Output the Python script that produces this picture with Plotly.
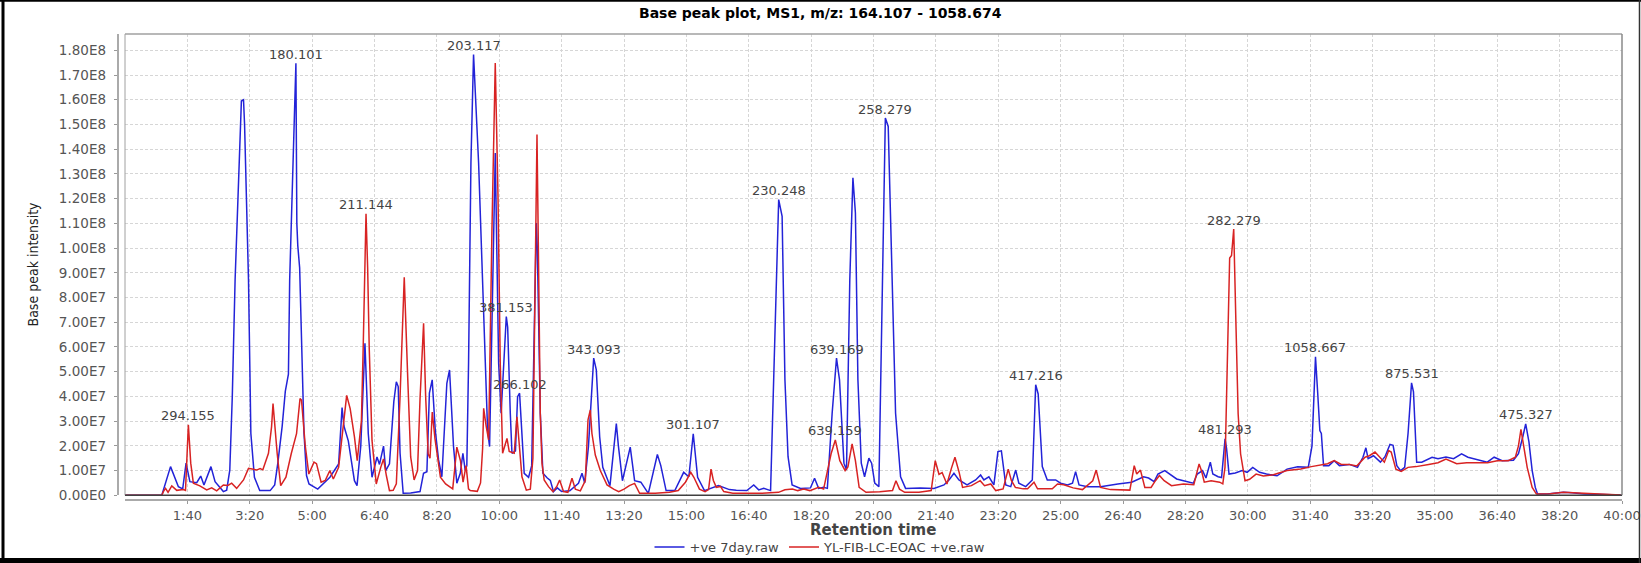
import numpy as np
import plotly.graph_objects as go

# Base peak chromatograms: (retention time in s, intensity in units of 1e6 counts)
ve7_points = [
    (0, 0), (59, 0), (73, 11.6), (85.6, 3.5), (92.5, 2.6), (97.9, 13.0), (104, 5.5), (115, 5.1),
    (121.4, 7.8), (126.6, 4.2), (137.8, 11.6), (144.4, 5.5), (157.7, 1.5), (163, 2.1), (168, 10.2),
    (172, 40), (176.5, 87), (186.6, 159.5), (190, 160), (191.7, 150), (198, 87), (201.8, 25),
    (207.5, 7.3), (216, 1.9), (232.7, 1.9), (240, 4.2), (245, 13), (252, 28), (257, 42), (262, 49),
    (264, 87), (274, 174.8), (275.5, 110), (277, 101), (280, 92), (283, 60), (287, 25), (291, 8),
    (295, 4.6), (309, 2.5), (328.5, 7.3), (342.5, 12.7), (346, 30), (348, 35.5), (351, 28), (358, 22),
    (367.8, 5.9), (372, 3.9), (378, 20), (384.7, 61.5), (390, 25), (396, 7.3), (404, 15.5), (408, 12.5),
    (414.5, 19.9), (418, 10), (424, 12.7), (431, 38), (435, 45.9), (438, 44), (441, 17), (446, 0.8),
    (458, 0.9), (473, 1.5), (478.6, 8.9), (484, 9.5), (488, 41.3), (492.5, 46.7), (497.4, 26.4),
    (502.7, 14.3), (508, 7.5), (516, 45.3), (520.3, 50.7), (526.7, 19.7), (532, 4.9), (537.5, 8.9),
    (541.7, 17), (545.5, 10), (548, 12), (550.8, 53.4), (554.6, 134.4), (558.8, 178.3), (566.9, 134.4),
    (572, 94), (577.6, 53.4), (581.3, 26.4), (584.5, 19.7), (593.6, 138.5), (599, 53.4), (603, 33.2),
    (611.3, 72.3), (613.5, 68), (617.7, 33.2), (620.4, 17), (626, 18), (629.4, 39.9), (632.6, 41.3),
    (636.4, 26.4), (640, 8.9), (647, 7.3), (652, 12), (659.4, 110.1), (661, 100), (665.8, 33.2),
    (670, 8.9), (677, 7), (681.9, 6), (687, 1.5), (693, 3), (700, 1.5), (713, 1.8), (727, 4.9),
    (732.7, 8.9), (737, 5), (743, 19.7), (751.4, 55.5), (755.6, 50.7), (761, 23.7), (766, 11.3),
    (777.5, 3.9), (787.7, 29), (791, 20), (797.5, 5.9), (810, 19.5), (817, 5.9), (827, 5.3), (839, 0.8),
    (853.5, 16.5), (856, 14), (859, 12), (867.5, 1.9), (881.5, 1.9), (895.7, 9.3), (904, 7.5),
    (911, 24.9), (918, 7.3), (929, 1.9), (951.4, 3.9), (969, 2.3), (980, 2.0), (997, 1.9), (1008, 4.2),
    (1016, 2.2), (1024, 2.8), (1035, 1.9), (1040, 46.7), (1048, 119.6), (1053.5, 112.8), (1058, 46.7),
    (1063, 15.6), (1069.5, 4.2), (1083, 2.8), (1099, 3.0), (1105.5, 6.9), (1112, 2.8), (1120, 3.2),
    (1126, 2.8), (1133.7, 33.2), (1140.7, 55.5), (1145.5, 46.7), (1152.6, 13), (1156.7, 10.2),
    (1162, 87.2), (1167, 128.4), (1171, 114.2), (1175, 46.7), (1180.4, 13), (1185.7, 7.5),
    (1192.6, 15), (1197, 13), (1202, 4.9), (1208.6, 3.5), (1214, 73.7), (1219, 152.6), (1223.6, 149.2),
    (1230, 87.2), (1235.4, 33.2), (1243.4, 7.5), (1251.4, 2.8), (1275, 3.0), (1297, 2.8), (1313, 4.2),
    (1321, 6.2), (1329, 8.9), (1337, 6.2), (1350, 4.2), (1363.7, 6.2), (1371.7, 8.2), (1377, 6.2),
    (1385, 7.5), (1393, 4.2), (1399.5, 17.7), (1405, 18), (1412, 4.2), (1420, 3.5), (1428, 10.2),
    (1433, 4.9), (1444, 3.5), (1454.6, 6.2), (1460, 44.7), (1464, 41), (1470.6, 11.6), (1478.6, 6.2),
    (1492, 6.2), (1500, 4.9), (1511, 4.2), (1519, 4.9), (1524, 9.6), (1529.5, 4.2), (1543, 3.5),
    (1564, 3.5), (1591.7, 4.6), (1614, 5.3), (1633, 7.5), (1641, 7), (1650, 5.5), (1656, 8.6),
    (1667, 10), (1675, 8.6), (1686, 6.6), (1697, 5.9), (1708, 5.3), (1712.7, 4.9), (1719, 8.6),
    (1727.6, 10), (1733, 7), (1740, 13.4), (1744, 8.6), (1752.5, 7.5), (1758, 7.2), (1763.6, 22.8),
    (1766, 19), (1770, 8.6), (1780, 9), (1791, 10), (1799, 9.3), (1808, 11.3), (1819, 9.3), (1830, 8.6),
    (1847, 7.9), (1863, 10.6), (1880, 11.5), (1897, 11.3), (1903, 20), (1908.6, 56), (1912, 42),
    (1915.6, 26.2), (1918, 25), (1921.5, 12), (1930, 12), (1938.6, 14), (1947, 12), (1962.8, 12.5),
    (1976, 11.3), (1984.7, 15.4), (1989.4, 19.2), (1993, 14.8), (2001.6, 16), (2012.7, 13.4),
    (2020, 15.6), (2028, 20.6), (2033, 20.2), (2039, 12), (2045, 10), (2051.6, 11.3), (2057, 25),
    (2062.6, 45.5), (2065.7, 41.8), (2070.8, 13.4), (2079, 13.4), (2095.5, 15.4), (2105, 14.8),
    (2117.8, 15.5), (2130, 14.8), (2142.8, 16.8), (2153, 15.4), (2173, 14), (2184, 13.4), (2195, 15.4),
    (2208, 14), (2226, 14.2), (2234, 16.8), (2240.8, 23.5), (2245.6, 28.9), (2250.8, 21.6), (2256, 10),
    (2261, 3.2), (2264.6, 0.5), (2280, 0.5), (2306, 1.2), (2320, 1.0), (2339, 0.5), (2370, 0.3),
    (2398, 0.1),
]

eoac_points = [
    (0, 0), (59, 0), (61.5, 1.5), (65, 2.8), (69, 1.2), (75, 3.8), (83, 2.0), (93.6, 2.3), (97, 2.0),
    (101.6, 28.5), (105.4, 13), (109.6, 4.9), (120, 3.8), (131, 2.2), (139, 3.0), (147, 1.8),
    (157.7, 4.2), (165, 4.0), (171, 4.9), (179, 2.8), (190, 6.2), (198, 10.9), (206, 10.5), (211, 10.2),
    (216.6, 10.8), (221, 10.3), (230, 17), (235, 27.8), (237.3, 37.1), (244, 16.8), (249.6, 3.9),
    (258, 7.3), (266.5, 16.8), (275, 24.9), (280.6, 39.1), (283, 38.5), (289, 20), (294.7, 8.6),
    (303, 13.4), (307, 12.8), (314.4, 5.3), (321, 6), (328.4, 10), (334, 6.6), (342.5, 11.3),
    (355.4, 40.4), (361, 35.1), (367.9, 23.5), (372.3, 14), (379, 30), (381.9, 60), (386.4, 113.9),
    (389, 92.2), (391.5, 60), (396, 22.2), (402.8, 4.6), (410, 11.3), (414.5, 14.7), (419, 8),
    (424, 1.9), (430, 2), (435, 4.6), (441, 40), (447.7, 88.2), (453.4, 46.6), (458, 15.5),
    (463.5, 6.2), (469, 10), (473, 39), (478.7, 69.6), (482, 40), (486, 16.8), (489, 15), (492.6, 33.7),
    (497, 22.8), (505.7, 7.3), (514, 4.6), (525.4, 2.6), (532, 19.5), (537.8, 14), (542, 5.3),
    (546.8, 12), (550.7, 2.6), (553.5, 1.9), (564.8, 1.6), (570, 5), (573.3, 18.8), (575, 35.2),
    (579, 28), (583, 22.4), (588.3, 107.4), (593.6, 174.9), (598, 120.9), (601.6, 53.4), (605.4, 17),
    (608.6, 19.7), (612.4, 23), (616, 17.7), (620, 17.5), (624, 17), (628.4, 31.8), (632, 20),
    (636.4, 7.5), (643.4, 2.1), (649.8, 2.5), (654, 15), (657.8, 94), (660.5, 145.9), (663, 94),
    (665.8, 33), (668.5, 13), (672, 6.2), (679, 3.5), (686, 1.5), (692.5, 3.7), (696.8, 6.2), (703, 1.5),
    (710, 1.2), (716.6, 6.9), (722, 2.5), (730, 1.8), (738, 6), (742.3, 30.5), (746, 34.5), (748.6, 25),
    (754, 16.3), (762, 10), (772.8, 4.2), (783.4, 2.5), (791.5, 1.5), (800, 2.5), (808.6, 3.9),
    (817, 4.8), (825, 0.8), (850, 0.8), (873, 1.2), (887, 1.9), (898.5, 5.3), (907, 9.3), (912, 7.3),
    (921, 2.5), (930, 1.5), (935.6, 2.3), (939.5, 10.6), (943.3, 6), (948, 3.2), (954.6, 3.6),
    (960, 1.5), (974.5, 0.8), (1019.6, 0.8), (1047.7, 1.2), (1058, 2.2), (1070, 2.5), (1078.6, 1.9),
    (1088, 2.5), (1098, 1.9), (1112, 3.2), (1120, 2.5), (1132, 16.8), (1138.8, 22.4), (1146, 14),
    (1154.5, 10), (1159, 11.5), (1165.7, 20.8), (1171, 14), (1177, 3.2), (1188, 1.2), (1210, 1.4),
    (1230.5, 1.9), (1236, 5.9), (1241.7, 2.5), (1250, 1.2), (1272.8, 1.2), (1292.5, 1.9), (1299, 14),
    (1305, 8.5), (1310, 9.2), (1317.7, 4.6), (1325, 11), (1330.6, 15.4), (1337.3, 9.3), (1342.8, 3.2),
    (1357, 3.9), (1371, 5.9), (1378, 3.9), (1388, 4.6), (1396, 1.9), (1407.8, 2.6), (1416, 10.6),
    (1421, 6), (1427.4, 3.2), (1440, 2.6), (1447, 2.6), (1457.3, 5.3), (1463, 2.6), (1486.6, 2.6),
    (1495, 4.6), (1505, 4.3), (1520, 3.0), (1535, 2.3), (1551.5, 5.9), (1557, 10.2), (1564, 3.2),
    (1580, 2.3), (1611, 2.1), (1618, 12), (1622, 8.6), (1628, 10.2), (1635, 3.2), (1645, 3.2),
    (1652, 5.9), (1658.4, 8), (1666, 5.9), (1677.7, 3.9), (1697, 4.6), (1713.5, 4.3), (1722, 12.7),
    (1726, 9.8), (1730.3, 5.3), (1741.3, 5.9), (1755, 5.3), (1760, 4.6), (1763.5, 11.3), (1768, 60),
    (1771, 96), (1774, 97), (1777.5, 107.7), (1781, 70), (1784.6, 33), (1788.5, 16.8), (1795.6, 5.9),
    (1803, 6.5), (1813.4, 8.6), (1825, 7.8), (1841, 8.3), (1863, 10), (1885, 10.6), (1902, 11.6),
    (1918.5, 12.5), (1928, 12.8), (1938.5, 14), (1950, 12.5), (1963, 12.5), (1975, 11.9), (1988, 15.4),
    (1995, 16), (2004, 17.5), (2012, 15.4), (2019, 13.4), (2026, 18.1), (2030, 17.5), (2037.5, 10.6),
    (2046, 9.7), (2057, 11.3), (2070, 11.6), (2090, 12.5), (2105, 13.2), (2117.8, 14.7), (2135, 12.8),
    (2151, 13.2), (2168, 13.2), (2184.5, 13.2), (2200, 14), (2217.6, 14), (2229, 15.4), (2234, 20),
    (2238, 26.7), (2242, 21), (2248, 11.3), (2256, 3.2), (2262.8, 0.5), (2285, 0.6), (2306, 1.2),
    (2330, 0.9), (2360, 0.5), (2398, 0.1),
]

# Base peak m/z labels and the retention time (s) of the peak they sit on
ve7_peak_mz = ["180.101", "203.117", "381.153", "266.102", "343.093", "301.107", "230.248",
               "639.169", "258.279", "417.216", "481.293", "1058.667", "875.531", "475.327"]
ve7_peak_time = [274, 558.8, 611.3, 632.6, 751.4, 911, 1048,
                 1140.7, 1219, 1460, 1763.6, 1908.6, 2062.6, 2245.6]
eoac_peak_mz = ["294.155", "211.144", "639.159", "282.279"]
eoac_peak_time = [101.6, 386.4, 1138.8, 1777.5]

series_names = ["+ve 7day.raw", "YL-FIB-LC-EOAC +ve.raw"]

x_tick_seconds = [100 * k for k in range(1, 25)]
x_tick_labels = ["1:40", "3:20", "5:00", "6:40", "8:20", "10:00", "11:40", "13:20", "15:00",
                 "16:40", "18:20", "20:00", "21:40", "23:20", "25:00", "26:40", "28:20", "30:00",
                 "31:40", "33:20", "35:00", "36:40", "38:20", "40:00"]
y_tick_values = [1e7 * k for k in range(19)]
y_tick_labels = ["0.00E0", "1.00E7", "2.00E7", "3.00E7", "4.00E7", "5.00E7", "6.00E7", "7.00E7",
                 "8.00E7", "9.00E7", "1.00E8", "1.10E8", "1.20E8", "1.30E8", "1.40E8", "1.50E8",
                 "1.60E8", "1.70E8", "1.80E8"]

ve7_t = np.array([p[0] for p in ve7_points], dtype=float)
ve7_i = np.array([p[1] for p in ve7_points], dtype=float) * 1e6
eoac_t = np.array([p[0] for p in eoac_points], dtype=float)
eoac_i = np.array([p[1] for p in eoac_points], dtype=float) * 1e6

# ---- page geometry (pixels) ----
W, H = 1641, 563
ML, MR, MT, MB = 100, 19, 34, 60
PW = W - ML - MR
PH = H - MT - MB
PLOT_LEFT, PLOT_BOTTOM = 125, 495.3


def px_x(px):
    return (px - ML) / PW


def px_y(py):
    return (H - MB - py) / PH


BLUE = "#2323d8"
RED = "#d82323"
FONT = "DejaVu Sans, Verdana, sans-serif"

fig = go.Figure()
fig.add_trace(go.Scatter(x=ve7_t, y=ve7_i, mode="lines", name=series_names[0],
                         line=dict(color=BLUE, width=1.5)))
fig.add_trace(go.Scatter(x=eoac_t, y=eoac_i, mode="lines", name=series_names[1],
                         line=dict(color=RED, width=1.5)))

annotations = []


def add_peak_labels(times, labels, t_arr, i_arr):
    for t, lab in zip(times, labels):
        annotations.append(dict(
            x=t, y=float(np.interp(t, t_arr, i_arr)), xref="x", yref="y", text=lab,
            showarrow=False, yanchor="middle", yshift=9,
            font=dict(family=FONT, size=13, color="#444444")))


add_peak_labels(ve7_peak_time, ve7_peak_mz, ve7_t, ve7_i)
add_peak_labels(eoac_peak_time, eoac_peak_mz, eoac_t, eoac_i)

# chart title, axis titles
annotations.append(dict(x=px_x(820.5), y=px_y(13), xref="paper", yref="paper",
                        text="Base peak plot, MS1, m/z: 164.107 - 1058.674", showarrow=False,
                        xanchor="center", yanchor="middle",
                        font=dict(family=FONT, size=14, color="#000000", weight="bold")))
annotations.append(dict(x=px_x(873), y=px_y(530), xref="paper", yref="paper",
                        text="Retention time", showarrow=False, xanchor="center", yanchor="middle",
                        borderpad=0,
                        font=dict(family=FONT, size=15, color="#444444", weight="bold")))
annotations.append(dict(x=px_x(32), y=px_y(264.5), xref="paper", yref="paper",
                        text="Base peak intensity", showarrow=False, textangle=-90,
                        xanchor="center", yanchor="middle",
                        font=dict(family="Liberation Sans Narrow, DejaVu Sans Condensed, Liberation Sans, sans-serif",
                                  size=14, color="#222222")))


def hline(py, x0, x1, color, width):
    return dict(type="line", xref="paper", yref="paper", x0=px_x(x0), x1=px_x(x1),
                y0=px_y(py), y1=px_y(py), line=dict(color=color, width=width))


def vline(px, y0, y1, color, width):
    return dict(type="line", xref="paper", yref="paper", x0=px_x(px), x1=px_x(px),
                y0=px_y(y0), y1=px_y(y1), line=dict(color=color, width=width))


shapes = [
    # plot area outline, darker along the baseline
    hline(34, PLOT_LEFT, 1622, "#a0a0a0", 1.5),
    vline(1622, 34, PLOT_BOTTOM, "#8a8a8a", 1.5),
    vline(PLOT_LEFT, 34, PLOT_BOTTOM, "#a0a0a0", 1),
    hline(PLOT_BOTTOM, PLOT_LEFT, 1622, "#404040", 1.5),
    # outer frame of the chart image
    vline(3, 0, H, "#000000", 3),
    hline(0.8, 0, W, "#000000", 2),
    hline(560.5, 0, W, "#000000", 5),
    vline(1639.5, 0, H, "#333333", 1.5),
]

fig.update_layout(
    width=W, height=H,
    margin=dict(l=ML, r=MR, t=MT, b=MB, autoexpand=False),
    paper_bgcolor="white", plot_bgcolor="white",
    showlegend=True,
    legend=dict(orientation="h", x=px_x(820.5), xanchor="center", y=px_y(547), yanchor="middle",
                font=dict(family=FONT, size=13, color="#444444"), bgcolor="rgba(0,0,0,0)",
                itemwidth=30, tracegroupgap=0),
    xaxis=dict(domain=[px_x(PLOT_LEFT), 1], range=[0, 2400], anchor="free", position=px_y(499.5),
               tickmode="array", tickvals=x_tick_seconds, ticktext=x_tick_labels,
               showline=True, linecolor="#aaaaaa", linewidth=2,
               ticks="outside", ticklen=3, tickcolor="#999999", ticklabelstandoff=1,
               tickfont=dict(family=FONT, size=13, color="#555555"),
               showgrid=True, gridcolor="#d6d6d6", griddash="3px,2px", gridwidth=1,
               zeroline=False),
    yaxis=dict(domain=[px_y(PLOT_BOTTOM), 1], range=[0, 1.866e8], anchor="free", position=px_x(117.5),
               tickmode="array", tickvals=y_tick_values, ticktext=y_tick_labels,
               showline=True, linecolor="#aaaaaa", linewidth=1.5,
               ticks="outside", ticklen=3, tickcolor="#999999", ticklabelstandoff=5,
               tickfont=dict(family=FONT, size=13.5, color="#555555"),
               showgrid=True, gridcolor="#d6d6d6", griddash="3px,2px", gridwidth=1,
               zeroline=False),
    annotations=annotations,
    shapes=shapes,
)

fig.write_html("out.html", config={"displayModeBar": False})
